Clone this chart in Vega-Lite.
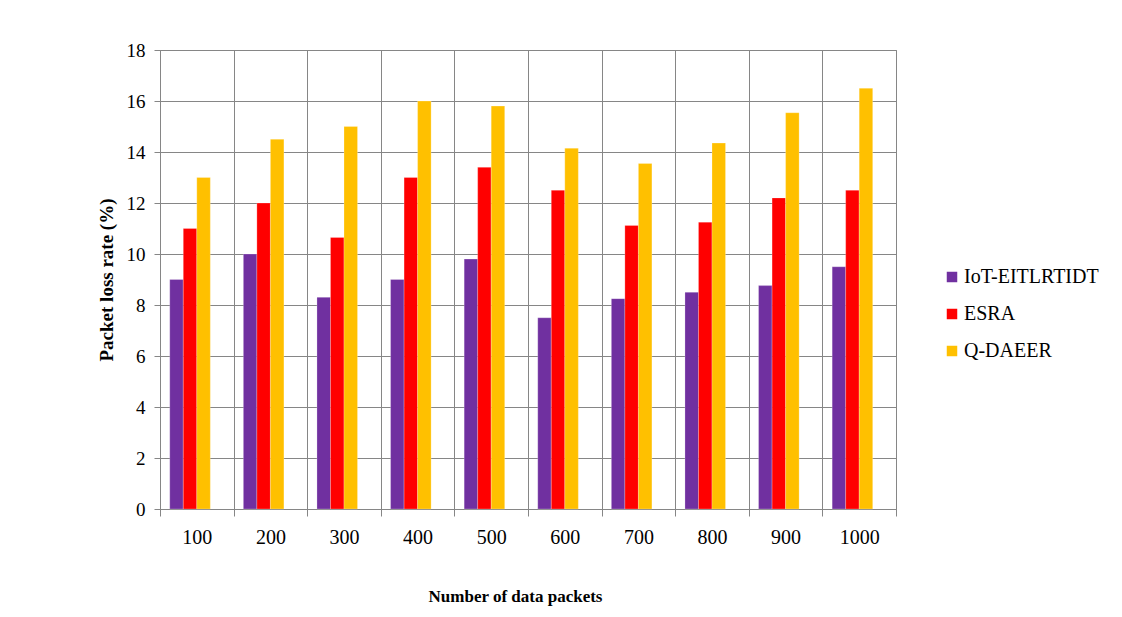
{
  "$schema": "https://vega.github.io/schema/vega-lite/v6.json",
  "autosize": {"type": "none"},
  "padding": {"left": 160, "top": 50, "right": 226, "bottom": 108},
  "width": 736,
  "height": 459,
  "background": "white",
  "data": {
    "values": [
      {"packets": 100, "method": "IoT-EITLRTIDT", "loss": 9.0},
      {"packets": 100, "method": "ESRA", "loss": 11.0},
      {"packets": 100, "method": "Q-DAEER", "loss": 13.0},
      {"packets": 200, "method": "IoT-EITLRTIDT", "loss": 10.0},
      {"packets": 200, "method": "ESRA", "loss": 12.0},
      {"packets": 200, "method": "Q-DAEER", "loss": 14.5},
      {"packets": 300, "method": "IoT-EITLRTIDT", "loss": 8.3},
      {"packets": 300, "method": "ESRA", "loss": 10.65},
      {"packets": 300, "method": "Q-DAEER", "loss": 15.0},
      {"packets": 400, "method": "IoT-EITLRTIDT", "loss": 9.0},
      {"packets": 400, "method": "ESRA", "loss": 13.0},
      {"packets": 400, "method": "Q-DAEER", "loss": 16.0},
      {"packets": 500, "method": "IoT-EITLRTIDT", "loss": 9.8},
      {"packets": 500, "method": "ESRA", "loss": 13.4},
      {"packets": 500, "method": "Q-DAEER", "loss": 15.8},
      {"packets": 600, "method": "IoT-EITLRTIDT", "loss": 7.5},
      {"packets": 600, "method": "ESRA", "loss": 12.5},
      {"packets": 600, "method": "Q-DAEER", "loss": 14.15},
      {"packets": 700, "method": "IoT-EITLRTIDT", "loss": 8.25},
      {"packets": 700, "method": "ESRA", "loss": 11.12},
      {"packets": 700, "method": "Q-DAEER", "loss": 13.55},
      {"packets": 800, "method": "IoT-EITLRTIDT", "loss": 8.5},
      {"packets": 800, "method": "ESRA", "loss": 11.25},
      {"packets": 800, "method": "Q-DAEER", "loss": 14.35},
      {"packets": 900, "method": "IoT-EITLRTIDT", "loss": 8.76},
      {"packets": 900, "method": "ESRA", "loss": 12.2},
      {"packets": 900, "method": "Q-DAEER", "loss": 15.54},
      {"packets": 1000, "method": "IoT-EITLRTIDT", "loss": 9.5},
      {"packets": 1000, "method": "ESRA", "loss": 12.5},
      {"packets": 1000, "method": "Q-DAEER", "loss": 16.5}
    ]
  },
  "mark": {"type": "bar", "stroke": "white", "strokeWidth": 0.4, "strokeOpacity": 0.6},
  "encoding": {
    "x": {
      "field": "packets",
      "type": "ordinal",
      "scale": {"paddingInner": 0, "paddingOuter": 0},
      "axis": {
        "title": "Number of data packets",
        "titleFontSize": 17,
        "titleFontWeight": "bold",
        "titleColor": "black",
        "titleX": 355,
        "titleY": 92,
        "titleAlign": "center",
        "titleBaseline": "alphabetic",
        "labelAngle": 0,
        "labelFontSize": 20,
        "labelColor": "black",
        "labelBaseline": "alphabetic",
        "labelPadding": 27,
        "tickBand": "extent",
        "tickSize": 7,
        "tickColor": "#868686",
        "domainColor": "#868686",
        "grid": true,
        "gridColor": "#868686",
        "gridOpacity": 1
      }
    },
    "xOffset": {
      "field": "method",
      "type": "nominal",
      "scale": {
        "domain": ["IoT-EITLRTIDT", "ESRA", "Q-DAEER", "spare"],
        "paddingInner": 0,
        "paddingOuter": 0.722
      }
    },
    "y": {
      "field": "loss",
      "type": "quantitative",
      "scale": {"domain": [0, 18], "nice": false},
      "axis": {
        "title": "Packet loss rate (%)",
        "titleFontSize": 19,
        "titleFontWeight": "bold",
        "titleColor": "black",
        "titlePadding": 10,
        "values": [0, 2, 4, 6, 8, 10, 12, 14, 16, 18],
        "labelFontSize": 19,
        "labelColor": "black",
        "labelPadding": 9,
        "tickSize": 6,
        "tickColor": "#868686",
        "domainColor": "#868686",
        "gridColor": "#868686",
        "gridOpacity": 1
      }
    },
    "color": {
      "field": "method",
      "type": "nominal",
      "scale": {
        "domain": ["IoT-EITLRTIDT", "ESRA", "Q-DAEER"],
        "range": ["#7030A0", "#FF0000", "#FFC000"]
      },
      "legend": {
        "title": null,
        "orient": "none",
        "legendX": 782,
        "legendY": 217,
        "symbolType": "square",
        "symbolSize": 110,
        "symbolStrokeWidth": 0,
        "labelFontSize": 20,
        "labelColor": "black",
        "labelOffset": 2,
        "rowPadding": 17
      }
    }
  },
  "config": {
    "font": "Liberation Serif",
    "axis": {"labelFont": "Liberation Serif", "titleFont": "Liberation Serif"},
    "legend": {"labelFont": "Liberation Serif"},
    "view": {"stroke": "#868686", "strokeWidth": 1}
  }
}
